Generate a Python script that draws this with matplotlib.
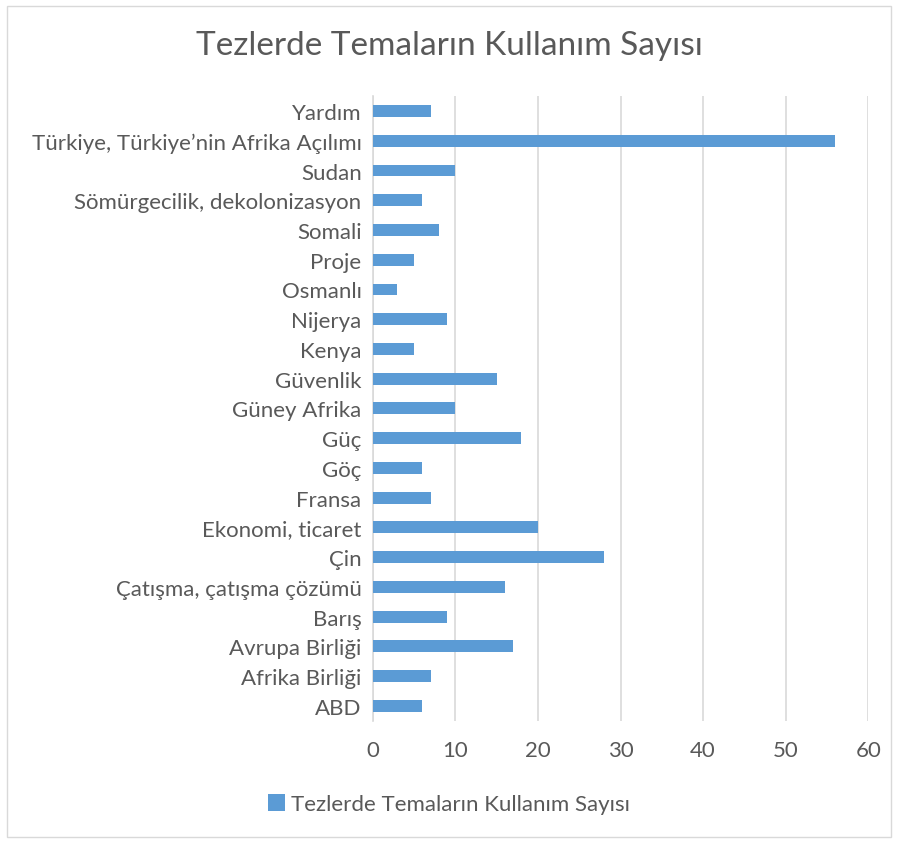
import matplotlib.pyplot as plt
from matplotlib.patches import Rectangle

# themes as listed top to bottom in the chart
themes = [
    "Yardım",
    "Türkiye, Türkiye’nin Afrika Açılımı",
    "Sudan",
    "Sömürgecilik, dekolonizasyon",
    "Somali",
    "Proje",
    "Osmanlı",
    "Nijerya",
    "Kenya",
    "Güvenlik",
    "Güney Afrika",
    "Güç",
    "Göç",
    "Fransa",
    "Ekonomi, ticaret",
    "Çin",
    "Çatışma, çatışma çözümü",
    "Barış",
    "Avrupa Birliği",
    "Afrika Birliği",
    "ABD",
]
counts = [7, 56, 10, 6, 8, 5, 3, 9, 5, 15, 10, 18, 6, 7, 20, 28, 16, 9, 17, 7, 6]
xticks = [0, 10, 20, 30, 40, 50, 60]

title = "Tezlerde Temaların Kullanım Sayısı"
bar_color = "#5B9BD5"
text_color = "#595959"

plt.rcParams["font.family"] = ["Lato", "DejaVu Sans"]

fig = plt.figure(figsize=(8.98, 8.45), dpi=100)
ax = fig.add_axes([0.415, 0.146, 0.552, 0.739])

ypos = list(range(len(themes)))[::-1]
ax.barh(ypos, counts, height=0.4, color=bar_color, label=title, zorder=3)

ax.set_yticks(ypos)
ax.set_yticklabels(themes, fontsize=16, color=text_color)
ax.set_ylim(-0.5, len(themes) - 0.5)
ax.set_xlim(0, 60)
ax.set_xticks(xticks)
ax.set_xticklabels([str(t) for t in xticks], fontsize=16, color=text_color)
ax.tick_params(length=0, pad=8)
ax.tick_params(axis="x", pad=14)

ax.grid(axis="x", color="#D9D9D9", linewidth=1.2, zorder=0)
for s in ["top", "right", "bottom"]:
    ax.spines[s].set_visible(False)
ax.spines["left"].set_color("#D9D9D9")
ax.spines["left"].set_linewidth(1.2)

fig.text(0.5, 0.945, title, ha="center", va="center", fontsize=24, color=text_color)

fig.legend(loc="center", bbox_to_anchor=(0.5, 0.047), frameon=False, fontsize=16,
           labelcolor=text_color, handlelength=0.75, handleheight=0.75, handletextpad=0.3)

fig.patches.append(Rectangle((0.008, 0.008), 0.984, 0.984, transform=fig.transFigure,
                             fill=False, edgecolor="#D9D9D9", linewidth=1))

fig.savefig("out.png", dpi=100)
